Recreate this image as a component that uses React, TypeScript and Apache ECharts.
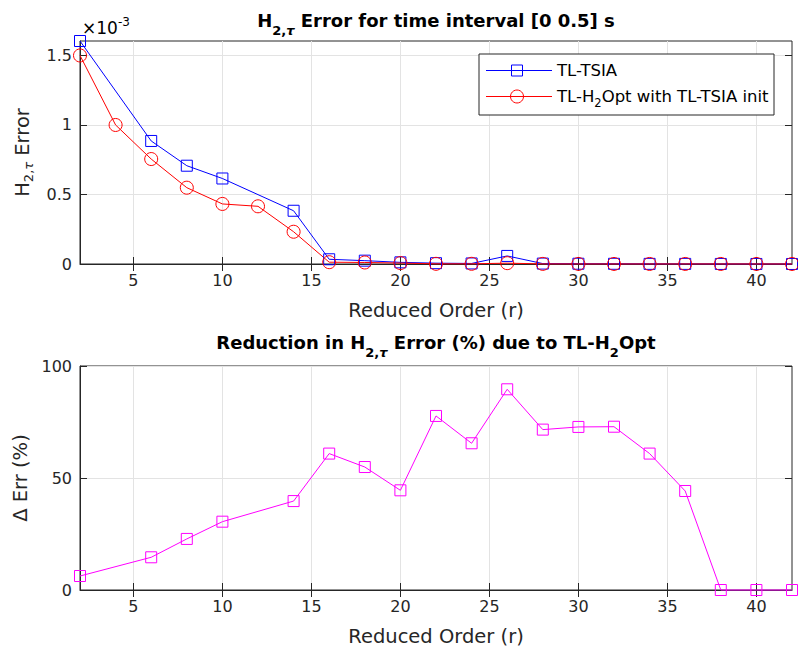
import React, { useEffect, useRef } from "react";
import * as echarts from "echarts";

const ordersTSIA = [2, 6, 8, 10, 14, 16, 18, 20, 22, 24, 26, 28, 30, 32, 34, 36, 38, 40, 42];
const errTSIA = [
  1.604e-3, 0.885e-3, 0.707e-3, 0.615e-3, 0.383e-3, 0.034e-3, 0.024e-3, 0.012e-3, 0.006e-3,
  0.004e-3, 0.058e-3, 0.003e-3, 0.002e-3, 0.0015e-3, 0.001e-3, 0.0008e-3, 0.0004e-3, 0.0003e-3,
  0.0002e-3,
];
const ordersOpt = [2, 4, 6, 8, 10, 12, 14, 16, 18, 20, 22, 24, 26, 28, 30, 32, 34, 36, 38, 40, 42];
const errOpt = [
  1.5e-3, 1.0e-3, 0.755e-3, 0.549e-3, 0.432e-3, 0.415e-3, 0.232e-3, 0.013e-3, 0.011e-3, 0.0067e-3,
  0.0013e-3, 0.0014e-3, 0.006e-3, 0.00085e-3, 0.00055e-3, 0.0004e-3, 0.00039e-3, 0.00045e-3,
  0.0004e-3, 0.0003e-3, 0.0002e-3,
];
const reductionPct = [
  6.25, 14.6, 22.8, 30.5, 39.7, 60.9, 54.9, 44.5, 77.7, 65.5, 89.6, 71.6, 72.8, 72.9, 60.9, 44.2, 0, 0, 0,
];
const xTicks = [5, 10, 15, 20, 25, 30, 35, 40];
const yTicksTop = [0, 0.5e-3, 1e-3, 1.5e-3];
const yTicksBottom = [0, 50, 100];

const FONT = "DejaVu Sans";
const AX = "#262626";
const GRIDC = "#e3e3e3";
const NAME_SIZE = 19.5;

const pairs = (xs: number[], ys: number[]) => xs.map((x, i) => [x, ys[i]]);

const subRich = (size: number, subSize: number, pad: number, bold: boolean) => ({
  a: { fontSize: size, fontFamily: FONT, fontWeight: bold ? "bold" : "normal", color: bold ? "#000" : AX },
  s: { fontSize: subSize, fontFamily: FONT, fontWeight: bold ? "bold" : "normal", color: bold ? "#000" : AX, padding: [pad, 0, 0, 0] },
  t: { fontSize: subSize, fontFamily: FONT, fontStyle: "italic", fontWeight: bold ? "bold" : "normal", color: bold ? "#000" : AX, padding: [pad, 0, 0, 0] },
});

function mainX(gridIndex: number) {
  return {
    type: "value",
    gridIndex,
    min: 2,
    max: 42,
    position: "bottom",
    name: "Reduced Order (r)",
    nameLocation: "middle",
    nameGap: 36,
    nameTextStyle: { fontSize: NAME_SIZE, fontFamily: FONT, color: AX },
    axisLine: { show: true, lineStyle: { color: AX, width: 1 } },
    axisTick: { show: true, inside: true, length: 7, customValues: xTicks, lineStyle: { color: AX } },
    axisLabel: { show: true, customValues: xTicks, margin: 8, fontSize: 16, fontFamily: FONT, color: AX },
    splitLine: { show: true, lineStyle: { color: GRIDC, width: 1 } },
  };
}
function mirrorX(gridIndex: number) {
  return {
    type: "value",
    gridIndex,
    min: 2,
    max: 42,
    position: "top",
    axisLine: { show: false },
    axisTick: { show: true, inside: true, length: 7, customValues: xTicks, lineStyle: { color: AX } },
    axisLabel: { show: false },
    splitLine: { show: false },
  };
}
function mirrorY(gridIndex: number, min: number, max: number, ticks: number[]) {
  return {
    type: "value",
    gridIndex,
    min,
    max,
    position: "right",
    axisLine: { show: false },
    axisTick: { show: true, inside: true, length: 7, customValues: ticks, lineStyle: { color: AX } },
    axisLabel: { show: false },
    splitLine: { show: false },
  };
}

const option: any = {
  animation: false,
  backgroundColor: "#ffffff",
  grid: [
    { left: 80, top: 41, width: 712, height: 223, show: true, borderColor: AX, borderWidth: 1, backgroundColor: "#fff" },
    { left: 80, top: 366, width: 712, height: 224, show: true, borderColor: AX, borderWidth: 1, backgroundColor: "#fff" },
  ],
  xAxis: [mainX(0), mirrorX(0), mainX(1), mirrorX(1)],
  yAxis: [
    {
      type: "value",
      gridIndex: 0,
      min: 0,
      max: 1.604e-3,
      name: "{a|H}{s|2,}{t|τ}{a| Error}",
      nameLocation: "middle",
      nameGap: 45,
      nameTextStyle: { rich: subRich(NAME_SIZE, 13, 12, false) },
      axisLine: { show: true, lineStyle: { color: AX, width: 1 } },
      axisTick: { show: true, inside: true, length: 7, customValues: yTicksTop, lineStyle: { color: AX } },
      axisLabel: {
        show: true,
        customValues: yTicksTop,
        margin: 8,
        fontSize: 16,
        fontFamily: FONT,
        color: AX,
        formatter: (v: number) => String(+(v * 1000).toFixed(4)),
      },
      splitLine: { show: true, lineStyle: { color: GRIDC, width: 1 } },
    },
    mirrorY(0, 0, 1.604e-3, yTicksTop),
    {
      type: "value",
      gridIndex: 1,
      min: 0,
      max: 100,
      interval: 50,
      name: "Δ Err (%)",
      nameLocation: "middle",
      nameGap: 45,
      nameTextStyle: { fontSize: NAME_SIZE, fontFamily: FONT, color: AX },
      axisLine: { show: true, lineStyle: { color: AX, width: 1 } },
      axisTick: { show: true, inside: true, length: 7, lineStyle: { color: AX } },
      axisLabel: { show: true, margin: 8, fontSize: 16, fontFamily: FONT, color: AX },
      splitLine: { show: true, lineStyle: { color: GRIDC, width: 1 } },
    },
    mirrorY(1, 0, 100, yTicksBottom),
  ],
  series: [
    {
      name: "TL-TSIA",
      type: "line",
      xAxisIndex: 0,
      yAxisIndex: 0,
      data: pairs(ordersTSIA, errTSIA),
      symbol: "rect",
      symbolSize: 11,
      clip: false,
      lineStyle: { color: "#0000ff", width: 1 },
      itemStyle: { color: "rgba(0,0,0,0)", borderColor: "#0000ff", borderWidth: 1 },
    },
    {
      name: "TL-H2Opt with TL-TSIA init",
      type: "line",
      xAxisIndex: 0,
      yAxisIndex: 0,
      data: pairs(ordersOpt, errOpt),
      symbol: "circle",
      symbolSize: 13,
      clip: false,
      lineStyle: { color: "#ff0000", width: 1 },
      itemStyle: { color: "rgba(0,0,0,0)", borderColor: "#ff0000", borderWidth: 1 },
    },
    {
      name: "Reduction",
      type: "line",
      xAxisIndex: 2,
      yAxisIndex: 2,
      data: pairs(ordersTSIA, reductionPct),
      symbol: "rect",
      symbolSize: 11,
      clip: false,
      lineStyle: { color: "#ff00ff", width: 1 },
      itemStyle: { color: "rgba(0,0,0,0)", borderColor: "#ff00ff", borderWidth: 1 },
    },
  ],
  graphic: [
    {
      type: "text",
      x: 436,
      y: 20,
      style: {
        text: "{a|H}{s|2,}{t|τ}{a| Error for time interval [0 0.5] s}",
        align: "center",
        verticalAlign: "middle",
        rich: subRich(18, 13, 20, true),
      },
    },
    {
      type: "text",
      x: 436,
      y: 342,
      style: {
        text: "{a|Reduction in H}{s|2,}{t|τ}{a| Error (%) due to TL-H}{s|2}{a|Opt}",
        align: "center",
        verticalAlign: "middle",
        rich: subRich(18, 13, 20, true),
      },
    },
    {
      type: "text",
      x: 82,
      y: 28,
      style: {
        text: "{a|×10}{p|-3}",
        align: "left",
        verticalAlign: "middle",
        rich: {
          a: { fontSize: 17, fontFamily: FONT, color: AX },
          p: { fontSize: 12, fontFamily: FONT, color: AX, padding: [0, 0, 13, 0] },
        },
      },
    },
    {
      type: "rect",
      shape: { x: 479, y: 54, width: 295, height: 61 },
      style: { fill: "#ffffff", stroke: AX, lineWidth: 1 },
      z: 100,
    },
    {
      type: "line",
      shape: { x1: 486, y1: 70.5, x2: 552, y2: 70.5 },
      style: { stroke: "#0000ff", lineWidth: 1 },
      z: 101,
    },
    {
      type: "rect",
      shape: { x: 511.5, y: 65, width: 11, height: 11 },
      style: { fill: "none", stroke: "#0000ff", lineWidth: 1 },
      z: 101,
    },
    {
      type: "text",
      x: 557,
      y: 70.5,
      style: { text: "TL-TSIA", fontSize: 16.5, fontFamily: FONT, fill: "#000", verticalAlign: "middle", align: "left" },
      z: 101,
    },
    {
      type: "line",
      shape: { x1: 486, y1: 96.5, x2: 552, y2: 96.5 },
      style: { stroke: "#ff0000", lineWidth: 1 },
      z: 101,
    },
    {
      type: "circle",
      shape: { cx: 517, cy: 96.5, r: 6.5 },
      style: { fill: "none", stroke: "#ff0000", lineWidth: 1 },
      z: 101,
    },
    {
      type: "text",
      x: 557,
      y: 96.5,
      style: {
        text: "{a|TL-H}{s|2}{a|Opt with TL-TSIA init}",
        align: "left",
        verticalAlign: "middle",
        rich: {
          a: { fontSize: 16.5, fontFamily: FONT, color: "#000" },
          s: { fontSize: 11.5, fontFamily: FONT, color: "#000", padding: [12, 0, 0, 0] },
        },
      },
      z: 101,
    },
  ],
};

export default function App() {
  const ref = useRef<HTMLDivElement>(null);
  useEffect(() => {
    const chart = echarts.init(ref.current!, null, { renderer: "svg" });
    chart.setOption(option);
    return () => chart.dispose();
  }, []);
  return <div ref={ref} style={{ position: "fixed", left: 0, top: 0, width: 798, height: 657, background: "#fff" }} />;
}
